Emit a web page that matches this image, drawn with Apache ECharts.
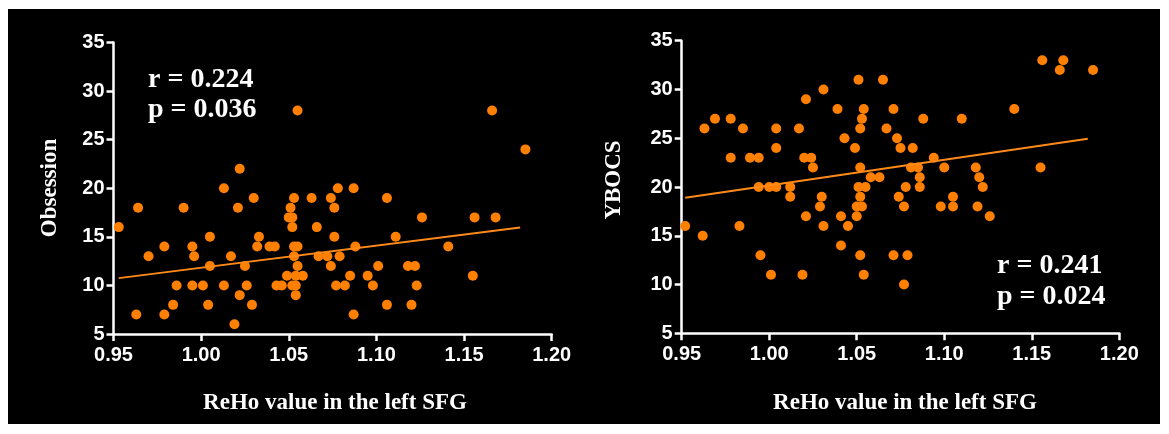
<!DOCTYPE html>
<html>
<head>
<meta charset="utf-8">
<script src="https://cdn.jsdelivr.net/npm/echarts@6/dist/echarts.min.js"></script>
<style>
html,body{margin:0;padding:0;background:#ffffff;}
#c{width:1169px;height:434px;}
</style>
</head>
<body>
<div id="c"></div>
<script>
// ReHo value (x) vs Obsession score (y), left panel
const obsessionPoints = [
  [0.953,16],[0.963,7],[0.964,18],[0.970,13],[0.979,7],[0.979,14],[0.984,8],[0.986,10],
  [0.990,18],[0.995,14],[0.996,13],[0.995,10],[1.001,10],[1.004,8],[1.005,15],[1.005,12],
  [1.013,20],[1.013,10],[1.017,13],[1.019,6],[1.021,18],[1.022,22],[1.022,9],[1.025,12],
  [1.026,10],[1.029,8],[1.030,19],[1.033,15],[1.032,14],[1.039,14],[1.042,14],[1.043,10],
  [1.046,10],[1.049,11],[1.051,18],[1.050,17],[1.052,17],[1.052,16],[1.053,19],[1.053,14],
  [1.055,14],[1.053,13],[1.055,12],[1.054,11],[1.058,11],[1.052,10],[1.054,10],[1.054,9],
  [1.055,28],[1.063,19],[1.066,16],[1.067,13],[1.072,13],[1.074,19],[1.076,18],[1.078,20],
  [1.076,15],[1.074,12],[1.079,13],[1.077,10],[1.082,10],[1.085,11],[1.087,20],[1.088,14],
  [1.087,7],[1.095,11],[1.098,10],[1.101,12],[1.106,19],[1.106,8],[1.111,15],[1.118,12],
  [1.122,12],[1.123,10],[1.120,8],[1.126,17],[1.141,14],[1.155,11],[1.156,17],[1.166,28],
  [1.168,17],[1.185,24]
];
// fitted line endpoints
const obsessionFit = [[0.953,10.75],[1.182,15.95]];

// ReHo value (x) vs YBOCS score (y), right panel
const ybocsPoints = [
  [0.952,16],[0.962,15],[0.963,26],[0.969,27],[0.978,27],[0.978,23],[0.983,16],[0.985,26],
  [0.989,23],[0.994,23],[0.994,20],[0.995,13],[1.000,20],[1.001,11],[1.004,20],[1.004,24],
  [1.004,26],[1.012,20],[1.012,19],[1.017,26],[1.019,11],[1.020,23],[1.021,29],[1.021,17],
  [1.024,23],[1.025,22],[1.029,18],[1.030,19],[1.031,30],[1.031,16],[1.039,28],[1.041,17],
  [1.041,14],[1.043,25],[1.045,16],[1.049,24],[1.050,17],[1.050,18],[1.051,31],[1.051,20],
  [1.052,26],[1.052,22],[1.052,19],[1.052,13],[1.053,27],[1.053,18],[1.054,28],[1.054,11],
  [1.055,20],[1.058,21],[1.063,21],[1.065,31],[1.067,26],[1.071,28],[1.071,13],[1.073,25],
  [1.074,19],[1.075,24],[1.077,18],[1.077,10],[1.078,20],[1.079,13],[1.081,22],[1.082,24],
  [1.085,22],[1.086,21],[1.086,20],[1.088,27],[1.094,23],[1.098,18],[1.100,22],[1.105,19],
  [1.105,18],[1.110,27],[1.118,22],[1.119,18],[1.120,21],[1.122,20],[1.126,17],[1.140,28],
  [1.155,22],[1.156,33],[1.166,32],[1.168,33],[1.185,32]
];
const ybocsFit = [[0.952,18.9],[1.182,24.95]];

const xTitle = 'ReHo value in the left SFG';
const yTitles = ['Obsession','YBOCS'];
const statsLeft = ['r = 0.224','p = 0.036'];
const statsRight = ['r = 0.241','p = 0.024'];

const ORANGE = '#ff8000';
const serif = '"Liberation Serif", "Times New Roman", serif';
const sans = '"Liberation Sans", Arial, sans-serif';

function xAxisCfg(gi){
  return {
    type:'value', gridIndex:gi, min:0.95, max:1.20, interval:0.05,
    axisLine:{show:true, onZero:false, lineStyle:{color:'#ffffff', width:2.5}},
    axisTick:{show:true, length:7, lineStyle:{color:'#ffffff', width:2.5}},
    axisLabel:{color:'#ffffff', fontFamily:sans, fontWeight:'bold', fontSize:20, margin:11,
      formatter:v=>v.toFixed(2)},
    splitLine:{show:false}
  };
}
function yAxisCfg(gi){
  return {
    type:'value', gridIndex:gi, min:5, max:35, interval:5,
    axisLine:{show:true, onZero:false, lineStyle:{color:'#ffffff', width:2.5}},
    axisTick:{show:true, length:7, lineStyle:{color:'#ffffff', width:2.5}},
    axisLabel:{color:'#ffffff', fontFamily:sans, fontWeight:'bold', fontSize:20, margin:9},
    splitLine:{show:false}
  };
}

const chart = echarts.init(document.getElementById('c'), null, {renderer:'canvas'});
chart.setOption({
  backgroundColor:'#ffffff',
  animation:false,
  grid:[
    {left:113.5, top:42.5, width:438.2, height:291.5},
    {left:681.7, top:40.7, width:437.6, height:292.6}
  ],
  xAxis:[xAxisCfg(0), xAxisCfg(1)],
  yAxis:[yAxisCfg(0), yAxisCfg(1)],
  graphic:[
    {type:'rect', z:-10, silent:true, shape:{x:8, y:9, width:1152, height:415}, style:{fill:'#000000'}},
    {type:'text', x:50, y:188, rotation:Math.PI/2, style:{text:yTitles[0], fill:'#ffffff', font:'bold 23px ' + serif, align:'center', verticalAlign:'middle'}},
    {type:'text', x:614, y:180, rotation:Math.PI/2, style:{text:yTitles[1], fill:'#ffffff', font:'bold 23px ' + serif, align:'center', verticalAlign:'middle'}},
    {type:'text', x:335, y:403, style:{text:xTitle, fill:'#ffffff', font:'bold 23px ' + serif, align:'center', verticalAlign:'middle'}},
    {type:'text', x:905, y:403, style:{text:xTitle, fill:'#ffffff', font:'bold 23px ' + serif, align:'center', verticalAlign:'middle'}},
    {type:'text', x:148, y:80, style:{text:statsLeft[0], fill:'#ffffff', font:'bold 28px ' + serif, align:'left', verticalAlign:'middle'}},
    {type:'text', x:148, y:110, style:{text:statsLeft[1], fill:'#ffffff', font:'bold 28px ' + serif, align:'left', verticalAlign:'middle'}},
    {type:'text', x:997, y:266, style:{text:statsRight[0], fill:'#ffffff', font:'bold 28px ' + serif, align:'left', verticalAlign:'middle'}},
    {type:'text', x:997, y:297, style:{text:statsRight[1], fill:'#ffffff', font:'bold 28px ' + serif, align:'left', verticalAlign:'middle'}}
  ],
  series:[
    {type:'line', xAxisIndex:0, yAxisIndex:0, data:obsessionFit, symbol:'none', z:3,
      lineStyle:{color:'#ff8a1a', width:2}},
    {type:'scatter', xAxisIndex:0, yAxisIndex:0, data:obsessionPoints, symbol:'circle', symbolSize:10, z:2,
      itemStyle:{color:ORANGE, opacity:1}},
    {type:'line', xAxisIndex:1, yAxisIndex:1, data:ybocsFit, symbol:'none', z:3,
      lineStyle:{color:'#ff8a1a', width:2}},
    {type:'scatter', xAxisIndex:1, yAxisIndex:1, data:ybocsPoints, symbol:'circle', symbolSize:10, z:2,
      itemStyle:{color:ORANGE, opacity:1}}
  ]
});
</script>
</body>
</html>
